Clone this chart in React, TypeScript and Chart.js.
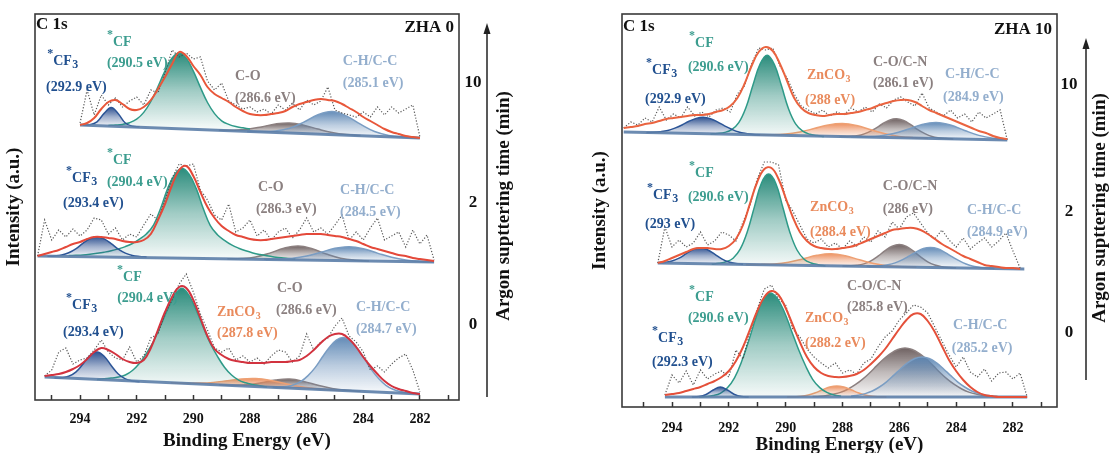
import React, { useEffect, useRef } from 'react';
import { Chart, registerables } from 'chart.js';
Chart.register(...registerables);

const FONT = 'Liberation Serif';
const STEP = 0.25;

// ================= ZHA 0 (left panel) =================
// sputtering 10 min
const L10_START = 294.0;
const L10_RAW = [22,55,30,50,40,47,38,44,48,40,55,52,72,95,88,92,86,88,64,55,62,44,40,36,38,33,36,31,40,35,42,35,45,40,44,58,35,32,30,28,33,28,38,30,38,32,36,40,8];
const L10_FIT = [20,22,27,36,43,45,41,36,35,38,45,56,68,81,93,89,79,70,58,51,47,43,38,34,31,30,30,31,32,34,38,41,43,45,46,45,44,41,37,33,28,24,20,16,13,11,9,8,7];
const L10_BASE = [[294.0, 20], [282.0, 7]];
const L10_CF3 = [19.9,20.2,23.2,31.6,37.5,31.3,22.0,18.8,18.3];
const L10_CF = [19.5,19.9,20.6,22.3,25.8,32.6,43.5,58.3,74.2,87.1,92,86.9,73.8,57.6,42.5,31.4,24.2,20.6,18.4,17.2,16];
const L10_CO = [14.8,14.8,15.7,18.1,21.0,22.0,19.8,15.9,12.5,10.4,9.4];
const L10_CH = [13.6,13.4,14.0,16.8,22.9,30.2,33.4,29.1,20.8,13.5,9.6,7.9,7.1];

// sputtering 2 min
const L2_START = 295.5;
const L2_RAW = [14,50,30,40,33,41,34,40,52,50,36,42,30,36,33,45,56,50,70,92,106,104,106,80,70,55,50,66,38,42,50,34,40,30,38,42,32,40,52,38,42,36,45,55,30,38,30,42,52,30,34,38,23,40,26,35,10];
const L2_FIT = [14,16,18,20,23,26,28,31,33,33,32,31,29,28,28,30,36,50,66,85,100,104,94,78,63,52,44,39,35,33,31,30,30,31,32,33,34,35,36,36,36,35,34,33,31,29,26,23,21,19,17,15,14,12,11,10,9];
const L2_BASE = [[295.5, 14], [281.5, 8]];
const L2_CF3 = [13.7,14.1,15,17.3,21.2,26.6,31.3,33.3,31.2,26.4,20.9,16.9,14.5,13.5,13];
const L2_CF = [14.4,14.7,15.1,15.8,16.7,17.8,19.2,21.1,23.4,26.5,30.9,36.3,45.2,62.1,82,95.9,101.8,95.7,81.6,61.5,44.4,35.3,29.7,25.1,21.8,19.2,17.1,15.5,14.2,13.1,12.2,11.6,11.1];
const L2_CO = [11.2,11.5,13.1,16.9,21.8,24.0,21.3,16.0,11.8,9.8,9.1];
const L2_CH = [10.7,10.8,11.7,14.0,17.7,21.7,23.3,21.3,16.9,12.7,9.9,8.6,8.1];

// sputtering 0 min
const L0_START = 295.25;
const L0_RAW = [24,30,48,52,36,40,42,50,60,48,42,40,53,38,44,62,66,86,100,116,126,108,86,70,52,48,52,40,44,38,42,36,44,50,48,38,44,66,50,58,62,74,82,64,58,48,30,34,28,36,42,46,30,8];
const L0_FIT = [24,25,26,28,31,35,41,48,52,50,46,41,38,37,40,52,70,88,103,113,112,100,82,64,51,45,41,39,38,37,37,37,38,38,38,39,40,44,50,57,63,66,66,61,53,43,34,26,19,14,11,9,7,6];
const L0_BASE = [[295.25, 23], [282.0, 6]];
const L0_CF3 = [22.0,22.2,23.7,27.9,35.7,44.4,48.0,43.8,34.5,26.0,21.1,19.0,18.2];
const L0_CF = [20.6,21.3,21.9,22.9,25.0,29.5,36.7,46.9,59.0,74.7,91.4,105.1,111.8,104.4,90.1,72.8,56.5,43.7,32.8,25.0,19.9,17.2,15.5,14.2,12.9];
const L0_ZN = [17.3,16.8,16.9,17.6,19.3,21.0,21.4,19.8,16.7,13.8,11.8,10.4,9.6];
const L0_CO = [15.2,14.8,15.3,17.3,19.9,20.9,18.6,14.7,11.5,9.7,8.8];
const L0_CH = [12.9,12.9,13.5,15.2,18.6,24.4,32.4,42.7,52.5,60.0,62.5,59.3,51.2,40.8,29.9,21.2,14.7,10.7,8.4,7.2,6.5];

// ================= ZHA 10 (right panel) =================
const R10_START = 295.7;
const R10_RAW = [24,30,27,34,30,45,32,38,34,45,36,40,35,42,44,40,58,66,88,104,102,104,86,74,58,46,42,38,42,36,40,37,44,40,45,40,48,44,52,55,50,46,59,44,40,36,42,34,38,30,40,34,38,42,12];
const R10_FIT = [24,25,26,28,29,31,33,34,35,36,37,37,38,40,42,46,54,68,86,100,105,101,88,71,54,44,39,37,36,37,38,38,39,40,42,44,47,49,51,52,52,50,46,42,39,36,33,30,27,24,21,19,16,14,13];
const R10_BASE = [[295.7, 20], [282.2, 12]];
const R10_CF3 = [19.6,19.7,20.3,21.5,23.9,27.0,30.7,33.6,34.7,33.3,30.1,26.1,22.7,20.0,18.5,17.6,17.2];
const R10_CF = [17.9,18.6,19.6,22.3,29.3,44.2,67.0,87.9,96.7,87.6,66.4,43.3,28.1,20.8,17.8,16.5,15.5];
const R10_ZN = [17.3,17.3,18.0,20.1,23.4,27.0,28.4,26.4,22.2,18.3,15.6,14.3,13.8];
const R10_CO = [15.5,15.5,15.9,17.0,19.6,23.3,28.0,31.8,33.2,31.5,27.4,22.4,18.4,15.5,14.1,13.4,13.0];
const R10_CH = [15.2,15.3,16.1,18.4,22.7,27.6,29.5,27.0,21.5,16.6,13.7,12.3];

const R2_START = 294.5;
const R2_RAW = [14,50,30,37,30,34,45,32,36,45,42,36,55,72,98,115,115,112,77,66,52,38,34,38,30,34,28,36,31,40,35,46,40,55,48,60,64,54,44,38,47,37,30,39,28,34,39,30,36,44,26,9];
const R2_FIT = [14,16,19,22,25,28,29,29,28,28,31,38,52,74,95,108,109,98,79,60,45,36,31,29,28,28,29,30,32,35,38,41,44,47,48,49,49,47,43,38,33,29,25,21,18,15,12,11,10,9,9,8];
const R2_BASE = [[294.5, 14], [281.6, 8]];
const R2_CF3 = [14.2,14.6,16.0,18.8,23.3,27.5,29.3,27.3,22.9,18.1,15.0,13.4,12.8];
const R2_CF = [12.7,13.7,15.2,18.8,27.8,45.2,70.1,94.0,102.9,93.8,69.7,44.6,27.0,17.8,14.0,12.3,11.1];
const R2_ZN = [12.6,12.6,13.1,14.8,18.1,21.7,23.2,21.2,17.2,13.5,11.2,10.3,9.9];
const R2_CO = [11.1,11.2,11.7,13.1,16.1,20.8,26.3,30.8,32.5,30.6,25.8,20.1,15.2,12.0,10.3,9.5,9.2];
const R2_CH = [10.7,10.8,11.2,12.2,14.1,17.2,21.1,25.2,28.5,29.5,28.2,24.7,20.4,16.3,13.0,10.8,9.6,8.9,8.6];

const R0_START = 294.25;
const R0_RAW = [12,32,24,36,22,37,28,33,36,30,57,48,76,98,118,122,108,102,78,70,58,50,44,39,44,34,37,33,44,48,60,70,76,87,94,102,100,94,80,66,52,40,50,35,30,38,26,34,35,28,34,10];
const R0_FIT = [12,13,14,16,18,20,23,26,30,36,46,60,78,96,110,116,112,99,82,65,50,40,34,31,30,30,31,33,37,43,50,58,68,78,87,93,93,86,75,61,47,36,27,20,15,12,11,10,10,10,10,10];
const R0_BASE = [[294.25, 10], [281.5, 10]];
const R0_CF3 = [10,10.4,12.5,17,20,17,12.5,10.4,10];
const R0_CF = [10,10.4,11.4,13.7,19.2,29.2,45.4,66.2,89,107.2,114,108.8,95.3,76.6,57.8,41.2,27.7,19.4,14.6,12,10.8];
const R0_ZN = [10.1,10.3,10.8,12.1,14.3,17.3,19.9,21,19.9,17.3,14.3,12.1,10.8,10.3,10.1];
const R0_CO = [10.4,10.8,11.6,12.9,14.9,18,22.3,27.6,34,41.1,48,53.6,57.5,59,57.5,53.6,48,41.1,34,27.6,22.3,18,14.9,12.9,11.6,10.8,10.4];
const R0_CH = [10.8,11.8,13.4,16,20,25.2,31.6,38.3,44.3,48.5,50,48.5,44.3,38.3,31.6,25.2,20,16,13.4,11.8,10.8];

const SPUTTER_TIMES = ['0', '2', '10'];

// ---------- styles ----------
const STYLE = {
  CF3: { line: '#2c5597', rgb: '38,74,140', text: '#21508f', order: 3 },
  CF: { line: '#2e9a88', rgb: '32,134,117', text: '#3c9d8f', order: 4 },
  ZN: { line: '#eea073', rgb: '236,140,90', text: '#e98a5c', order: 5 },
  CO: { line: '#8c8080', rgb: '104,90,90', text: '#8b8080', order: 6 },
  CH: { line: '#7a9dc3', rgb: '92,134,180', text: '#93aecd', order: 3 },
};

const LEFT = {
  pad: { left: 0, right: 651, top: 14, bottom: 0 },
  xMin: 280.62, xMax: 295.59, yMax: 386, xH: 53, yW: 35,
  tickPad: 16, titlePadB: 2, yTitlePad: 5,
  name: 'ZHA 0', c1sDy: 11, nameDy: 14,
  arrowDx: 28, arrowTop: 23, arrowBottom: 397, numDx: -14, titleDx: 17, titleY: 206,
  sputterU: [75, 197, 317],
  offsets: [0, 130, 255],
  spectra: [
    { start: L0_START, raw: L0_RAW, fit: L0_FIT, base: L0_BASE, fitColor: '#d2333f', peaks: [
      { key: 'CF3', start: 294.9, step: 0.25, v: L0_CF3 },
      { key: 'CF', start: 293.4, step: 0.25, v: L0_CF },
      { key: 'ZN', start: 290.8, step: 0.5, v: L0_ZN },
      { key: 'CO', start: 289.1, step: 0.5, v: L0_CO },
      { key: 'CH', start: 287.2, step: 0.25, v: L0_CH },
    ] },
    { start: L2_START, raw: L2_RAW, fit: L2_FIT, base: L2_BASE, fitColor: '#e4493a', peaks: [
      { key: 'CF3', start: 295.15, step: 0.25, v: L2_CF3 },
      { key: 'CF', start: 294.4, step: 0.25, v: L2_CF },
      { key: 'CO', start: 288.8, step: 0.5, v: L2_CO },
      { key: 'CH', start: 287.5, step: 0.5, v: L2_CH },
    ] },
    { start: L10_START, raw: L10_RAW, fit: L10_FIT, base: L10_BASE, fitColor: '#e8573a', peaks: [
      { key: 'CF3', start: 293.9, step: 0.25, v: L10_CF3 },
      { key: 'CF', start: 293.0, step: 0.25, v: L10_CF },
      { key: 'CO', start: 289.1, step: 0.5, v: L10_CO },
      { key: 'CH', start: 288.1, step: 0.5, v: L10_CH },
    ] },
  ],
  labels: [
    { t: 'CF', sub: '3', star: true, c: 'CF3', E: 294.95, u: 339 },
    { t: '(292.9 eV)', c: 'CF3', E: 295.2, u: 313 },
    { t: 'CF', star: true, c: 'CF', E: 292.84, u: 358 },
    { t: '(290.5 eV)', c: 'CF', E: 293.05, u: 337 },
    { t: 'C-O', c: 'CO', E: 288.53, u: 324 },
    { t: '(286.6 eV)', c: 'CO', E: 288.53, u: 302 },
    { t: 'C-H/C-C', c: 'CH', E: 284.72, u: 339 },
    { t: '(285.1 eV)', c: 'CH', E: 284.72, u: 317 },
    { t: 'CF', sub: '3', star: true, c: 'CF3', E: 294.28, u: 222 },
    { t: '(293.4 eV)', c: 'CF3', E: 294.6, u: 197 },
    { t: 'CF', star: true, c: 'CF', E: 292.84, u: 240 },
    { t: '(290.4 eV)', c: 'CF', E: 293.05, u: 218 },
    { t: 'C-O', c: 'CO', E: 287.72, u: 213 },
    { t: '(286.3 eV)', c: 'CO', E: 287.79, u: 191 },
    { t: 'C-H/C-C', c: 'CH', E: 284.82, u: 210 },
    { t: '(284.5 eV)', c: 'CH', E: 284.82, u: 188 },
    { t: 'CF', sub: '3', star: true, c: 'CF3', E: 294.28, u: 95 },
    { t: '(293.4 eV)', c: 'CF3', E: 294.6, u: 68 },
    { t: 'CF', star: true, c: 'CF', E: 292.48, u: 123 },
    { t: '(290.4 eV)', c: 'CF', E: 292.69, u: 102 },
    { t: 'ZnCO', sub: '3', c: 'ZN', E: 289.16, u: 88 },
    { t: '(287.8 eV)', c: 'ZN', E: 289.16, u: 67 },
    { t: 'C-O', c: 'CO', E: 287.05, u: 112 },
    { t: '(286.6 eV)', c: 'CO', E: 287.08, u: 90 },
    { t: 'C-H/C-C', c: 'CH', E: 284.26, u: 93 },
    { t: '(284.7 eV)', c: 'CH', E: 284.26, u: 71 },
  ],
};

const RIGHT = {
  pad: { left: 590, right: 53, top: 14, bottom: 0 },
  xMin: 280.45, xMax: 295.76, yMax: 393, xH: 46, yW: 32,
  tickPad: 18, titlePadB: -2, yTitlePad: 1,
  name: 'ZHA 10', c1sDy: 13, nameDy: 16,
  arrowDx: 29, arrowTop: 38, arrowBottom: 380, numDx: -17, titleDx: 14, titleY: 208,
  sputterU: [74, 195, 322],
  offsets: [0, 130, 255],
  spectra: [
    { start: R0_START, raw: R0_RAW, fit: R0_FIT, base: R0_BASE, fitColor: '#e4503a', peaks: [
      { key: 'CF3', start: 293.3, step: 0.25, v: R0_CF3 },
      { key: 'CF', start: 293.05, step: 0.25, v: R0_CF },
      { key: 'ZN', start: 289.95, step: 0.25, v: R0_ZN },
      { key: 'CO', start: 289.05, step: 0.25, v: R0_CO },
      { key: 'CH', start: 287.7, step: 0.25, v: R0_CH },
    ] },
    { start: R2_START, raw: R2_RAW, fit: R2_FIT, base: R2_BASE, fitColor: '#e85a3c', peaks: [
      { key: 'CF3', start: 294.5, step: 0.25, v: R2_CF3 },
      { key: 'CF', start: 292.6, step: 0.25, v: R2_CF },
      { key: 'ZN', start: 291.4, step: 0.5, v: R2_ZN },
      { key: 'CO', start: 288.0, step: 0.25, v: R2_CO },
      { key: 'CH', start: 287.15, step: 0.25, v: R2_CH },
    ] },
    { start: R10_START, raw: R10_RAW, fit: R10_FIT, base: R10_BASE, fitColor: '#ea6440', peaks: [
      { key: 'CF3', start: 294.9, step: 0.25, v: R10_CF3 },
      { key: 'CF', start: 292.65, step: 0.25, v: R10_CF },
      { key: 'ZN', start: 291.0, step: 0.5, v: R10_ZN },
      { key: 'CO', start: 288.1, step: 0.25, v: R10_CO },
      { key: 'CH', start: 287.7, step: 0.5, v: R10_CH },
    ] },
  ],
  labels: [
    { t: 'CF', sub: '3', star: true, c: 'CF3', E: 294.70, u: 337 },
    { t: '(292.9 eV)', c: 'CF3', E: 294.95, u: 308 },
    { t: 'CF', star: true, c: 'CF', E: 293.19, u: 364 },
    { t: '(290.6 eV)', c: 'CF', E: 293.44, u: 340 },
    { t: 'ZnCO', sub: '3', c: 'ZN', E: 289.25, u: 332 },
    { t: '(288 eV)', c: 'ZN', E: 289.32, u: 307 },
    { t: 'C-O/C-N', c: 'CO', E: 286.93, u: 345 },
    { t: '(286.1 eV)', c: 'CO', E: 286.93, u: 324 },
    { t: 'C-H/C-C', c: 'CH', E: 284.39, u: 333 },
    { t: '(284.9 eV)', c: 'CH', E: 284.46, u: 310 },
    { t: 'CF', sub: '3', star: true, c: 'CF3', E: 294.67, u: 212 },
    { t: '(293 eV)', c: 'CF3', E: 294.95, u: 183 },
    { t: 'CF', star: true, c: 'CF', E: 293.19, u: 234 },
    { t: '(290.6 eV)', c: 'CF', E: 293.44, u: 210 },
    { t: 'ZnCO', sub: '3', c: 'ZN', E: 289.14, u: 200 },
    { t: '(288.4 eV)', c: 'ZN', E: 289.14, u: 175 },
    { t: 'C-O/C-N', c: 'CO', E: 286.58, u: 221 },
    { t: '(286 eV)', c: 'CO', E: 286.58, u: 198 },
    { t: 'C-H/C-C', c: 'CH', E: 283.62, u: 197 },
    { t: '(284.9 eV)', c: 'CH', E: 283.62, u: 175 },
    { t: 'CF', star: true, c: 'CF', E: 293.19, u: 110 },
    { t: '(290.6 eV)', c: 'CF', E: 293.44, u: 89 },
    { t: 'CF', sub: '3', star: true, c: 'CF3', E: 294.49, u: 69 },
    { t: '(292.3 eV)', c: 'CF3', E: 294.70, u: 45 },
    { t: 'ZnCO', sub: '3', c: 'ZN', E: 289.32, u: 89 },
    { t: '(288.2 eV)', c: 'ZN', E: 289.32, u: 64 },
    { t: 'C-O/C-N', c: 'CO', E: 287.84, u: 121 },
    { t: '(285.8 eV)', c: 'CO', E: 287.84, u: 100 },
    { t: 'C-H/C-C', c: 'CH', E: 284.11, u: 82 },
    { t: '(285.2 eV)', c: 'CH', E: 284.15, u: 59 },
  ],
};

function pts(start: number, step: number, vals: number[], off: number) {
  return vals.map((v, i) => ({ x: +(start - i * step).toFixed(3), y: v + off }));
}

function gradFn(rgb: string, top: number, bot: number) {
  return (c: any) => {
    const ch = c.chart;
    if (!ch.chartArea) return `rgba(${rgb},0.4)`;
    const ys = ch.scales.y;
    const y0 = ys.getPixelForValue(top);
    const y1 = Math.max(ys.getPixelForValue(bot), y0 + 1);
    const g = ch.ctx.createLinearGradient(0, y0, 0, y1);
    g.addColorStop(0, `rgba(${rgb},0.95)`);
    g.addColorStop(0.5, `rgba(${rgb},0.42)`);
    g.addColorStop(1, `rgba(${rgb},0.04)`);
    return g;
  };
}

function font(size: number) {
  return `bold ${size}px "${FONT}"`;
}

function annotPlugin(P: any) {
  return {
    id: 'annot',
    afterDatasetsDraw(chart: any) {
      const { ctx, chartArea: a, scales } = chart;
      const x = scales.x, y = scales.y;
      ctx.save();
      ctx.strokeStyle = '#3a3a3a';
      ctx.lineWidth = 1.6;
      ctx.strokeRect(a.left, a.top, a.right - a.left, a.bottom - a.top);

      ctx.fillStyle = '#111';
      ctx.textBaseline = 'middle';
      ctx.font = font(17);
      ctx.textAlign = 'left';
      ctx.fillText('C 1s', a.left + 1, a.top + P.c1sDy);
      ctx.textAlign = 'right';
      ctx.fillText(P.name, a.right - 5, a.top + P.nameDy);

      ctx.textAlign = 'left';
      for (const L of P.labels) {
        const px = x.getPixelForValue(L.E);
        const py = y.getPixelForValue(L.u);
        ctx.fillStyle = STYLE[L.c].text;
        ctx.font = font(14);
        ctx.fillText(L.t, px, py);
        const w = ctx.measureText(L.t).width;
        if (L.sub) {
          ctx.font = font(L.t === 'CF' ? 12 : 10);
          ctx.fillText(L.sub, px + w + 0.5, py + 4);
        }
        if (L.star) {
          ctx.font = font(12);
          ctx.fillText('*', px - 6, py - 7);
        }
      }

      // sputtering-time axis
      const ax = a.right + P.arrowDx;
      ctx.strokeStyle = '#222';
      ctx.lineWidth = 1.5;
      ctx.beginPath();
      ctx.moveTo(ax, P.arrowBottom);
      ctx.lineTo(ax, P.arrowTop + 8);
      ctx.stroke();
      ctx.fillStyle = '#222';
      ctx.beginPath();
      ctx.moveTo(ax, P.arrowTop);
      ctx.lineTo(ax - 3.5, P.arrowTop + 11);
      ctx.lineTo(ax + 3.5, P.arrowTop + 11);
      ctx.closePath();
      ctx.fill();

      ctx.fillStyle = '#111';
      ctx.font = font(17);
      ctx.textAlign = 'center';
      SPUTTER_TIMES.forEach((t, i) => {
        ctx.fillText(t, ax + P.numDx, y.getPixelForValue(P.sputterU[i]));
      });
      ctx.save();
      ctx.translate(ax + P.titleDx, P.titleY);
      ctx.rotate(-Math.PI / 2);
      ctx.font = font(19);
      ctx.fillText('Argon supttering time (min)', 0, 0);
      ctx.restore();
      ctx.restore();
    },
  };
}

function buildConfig(P: any) {
  const datasets: any[] = [];
  P.spectra.forEach((s: any, si: number) => {
    const off = P.offsets[si];
    const baseIdx = datasets.length;
    datasets.push({
      data: s.base.map(([e, v]: number[]) => ({ x: e, y: v + off })),
      borderColor: 'rgba(92,126,168,0.9)', borderWidth: 3, tension: 0,
      pointRadius: 0, fill: false, order: 2,
    });
    s.peaks.forEach((pk: any) => {
      const st = STYLE[pk.key];
      const top = Math.max(...pk.v) + off;
      const bot = Math.min(...pk.v) + off;
      datasets.push({
        data: pts(pk.start, pk.step, pk.v, off),
        borderColor: st.line, borderWidth: 1.5, tension: 0.4, pointRadius: 0,
        fill: { target: baseIdx }, backgroundColor: gradFn(st.rgb, top, bot), order: st.order,
      });
    });
    datasets.push({
      data: pts(s.start, STEP, s.raw, off),
      borderColor: 'rgba(70,70,70,0.9)', borderWidth: 1.2, borderDash: [1.2, 1.8],
      tension: 0, pointRadius: 0, fill: false, order: 1,
    });
    datasets.push({
      data: pts(s.start, STEP, s.fit, off),
      borderColor: s.fitColor, borderWidth: 2, tension: 0.4, pointRadius: 0,
      fill: false, order: 0,
    });
  });

  return {
    type: 'line',
    data: { datasets },
    options: {
      responsive: false,
      maintainAspectRatio: false,
      animation: false,
      devicePixelRatio: 1,
      events: [],
      layout: { padding: P.pad },
      plugins: { legend: { display: false }, tooltip: { enabled: false } },
      scales: {
        x: {
          type: 'linear', reverse: true, min: P.xMin, max: P.xMax,
          afterFit: (s: any) => { s.height = P.xH; },
          ticks: {
            stepSize: 1, includeBounds: false, autoSkip: false, maxRotation: 0, minRotation: 0,
            maxTicksLimit: 30, padding: P.tickPad, color: '#111',
            font: { family: FONT, size: 14, weight: 'bold' },
            callback: (v: number) => (Math.round(v) % 2 === 0 ? String(Math.round(v)) : ''),
          },
          grid: { drawOnChartArea: false, drawTicks: true, tickLength: -5, tickWidth: 1.5, tickColor: '#333' },
          border: { display: false },
          title: {
            display: true, text: 'Binding Energy (eV)', color: '#111',
            font: { family: FONT, size: 19, weight: 'bold', lineHeight: 1 },
            padding: { top: 0, bottom: P.titlePadB },
          },
        },
        y: {
          type: 'linear', min: 0, max: P.yMax,
          afterFit: (s: any) => { s.width = P.yW; },
          ticks: { display: false },
          grid: { display: false },
          border: { display: false },
          title: {
            display: true, text: 'Intensity (a.u.)', color: '#111',
            font: { family: FONT, size: 19, weight: 'bold', lineHeight: 1 },
            padding: { top: P.yTitlePad, bottom: 0 },
          },
        },
      },
    },
    plugins: [annotPlugin(P)],
  };
}

function Panel({ P }: { P: any }) {
  const ref = useRef<HTMLCanvasElement>(null);
  useEffect(() => {
    const chart = new Chart(ref.current as HTMLCanvasElement, buildConfig(P) as any);
    return () => chart.destroy();
  }, []);
  return (
    <canvas ref={ref} width={1110} height={453}
      style={{ position: 'absolute', left: 0, top: 0, width: 1110, height: 453 }} />
  );
}

export default function App() {
  return (
    <div style={{ position: 'fixed', left: 0, top: 0, width: 1110, height: 453, background: '#fff', overflow: 'hidden' }}>
      <Panel P={LEFT} />
      <Panel P={RIGHT} />
    </div>
  );
}
